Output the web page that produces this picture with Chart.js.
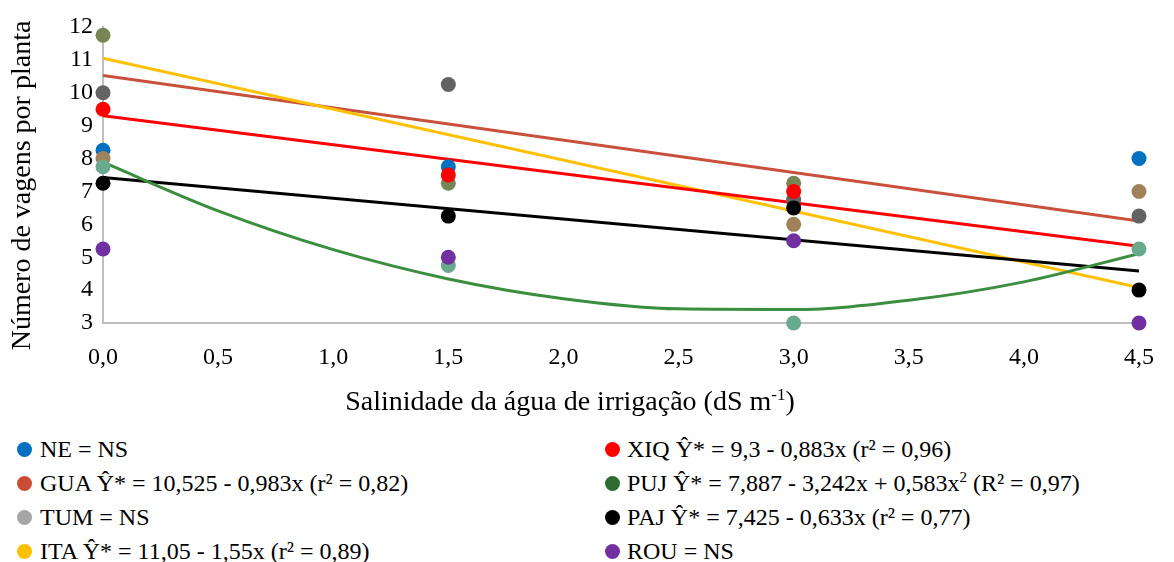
<!DOCTYPE html>
<html>
<head>
<meta charset="utf-8">
<script src="https://cdn.jsdelivr.net/npm/chart.js@4/dist/chart.umd.min.js"></script>
<style>
  body { margin: 0; background: #fff; font-family: 'Liberation Serif', 'Times New Roman', serif; color: #000; }
  #wrap { position: relative; width: 1174px; height: 562px; overflow: hidden; }
  #c { position: absolute; left: 0; top: 0; }
  #xtitle { position: absolute; left: 270px; width: 600px; top: 379px; line-height: 32px; text-align: center; font-size: 28px; }
  #xtitle sup { font-size: 17px; }
  .col { position: absolute; top: 432px; font-size: 24px; }
  .item { position: relative; height: 34px; line-height: 34px; white-space: nowrap; }
  .item sup { font-size: 15px; line-height: 0; }
  .dot { position: absolute; top: 10px; width: 15px; height: 15px; border-radius: 50%; }
</style>
</head>
<body>
<div id="wrap">
  <canvas id="c" width="1174" height="420"></canvas>
  <div id="xtitle">Salinidade da água de irrigação (dS m<sup>-1</sup>)</div>
  <div class="col" id="legLeft" style="left:0"></div>
  <div class="col" id="legRight" style="left:585px"></div>
</div>
<script>
// salinity levels (dS m-1)
const salinity = [0, 1.5, 3, 4.5];

// observed points, grouped by marker colour (null = hidden behind another marker)
const ptBlue   = [8.25, 7.75, null, 8.0];
const ptOlive  = [11.75, 7.25, 7.25, null];
const ptGray   = [10.0, 10.25, 6.75, 6.25];
const ptBrown  = [8.0, null, 6.0, 7.0];
const ptTeal   = [7.75, 4.75, 3.0, 5.25];
const ptBlack  = [7.25, 6.25, 6.5, 4.0];
const ptRed    = [9.5, 7.5, 7.0, null];
const ptPurple = [5.25, 5.0, 5.5, 3.0];

// fitted lines, read at the ends of the axis
const lineX = [0, 4.5];
const guaLine = [10.525, 6.1];
const itaLine = [11.05, 4.08];
const xiqLine = [9.3, 5.33];
const pajLine = [7.425, 4.58];

// PUJ quadratic curve, read every 0.5
const curveX = [0, 0.5, 1, 1.5, 2, 2.5, 3, 3.5, 4, 4.5];
const pujCurve = [7.89, 6.41, 5.23, 4.34, 3.74, 3.43, 3.41, 3.69, 4.25, 5.11];

const xTicks = [0, 0.5, 1, 1.5, 2, 2.5, 3, 3.5, 4, 4.5];

// legend entries
const legendLeft = [
  ['#0070C0', 'NE = NS'],
  ['#CC4B34', 'GUA Ŷ* = 10,525 - 0,983x (r² = 0,82)'],
  ['#A5A5A5', 'TUM = NS'],
  ['#FFC000', 'ITA Ŷ* = 11,05 - 1,55x (r² = 0,89)']
];
const legendRight = [
  ['#FF0000', 'XIQ Ŷ* = 9,3 - 0,883x (r² = 0,96)'],
  ['#2F6A31', 'PUJ Ŷ* = 7,887 - 3,242x + 0,583x<sup>2</sup> (R² = 0,97)'],
  ['#000000', 'PAJ Ŷ* = 7,425 - 0,633x (r² = 0,77)'],
  ['#7030A0', 'ROU = NS']
];

function fillLegend(id, items, dotX, textX) {
  let el = document.getElementById(id);
  items.forEach(function (it) {
    let row = document.createElement('div');
    row.className = 'item';
    row.style.paddingLeft = textX + 'px';
    row.innerHTML = '<span class="dot" style="left:' + dotX + 'px;background:' + it[0] + '"></span>' + it[1];
    el.appendChild(row);
  });
}
fillLegend('legLeft', legendLeft, 17, 40);
fillLegend('legRight', legendRight, 20, 42);

function pts(xs, ys) {
  let out = [];
  ys.forEach(function (y, i) {
    if (y !== null) out.push({ x: xs[i], y: y });
  });
  return out;
}

function dots(ys, color, order) {
  return {
    data: pts(salinity, ys),
    showLine: false,
    pointRadius: 7.5,
    pointBackgroundColor: color,
    pointBorderWidth: 0,
    clip: false,
    order: order
  };
}

function trend(xs, ys, color) {
  return {
    data: pts(xs, ys),
    showLine: true,
    borderColor: color,
    borderWidth: 3,
    pointRadius: 0,
    cubicInterpolationMode: 'monotone',
    order: 20
  };
}

const font = 'Liberation Serif';

new Chart(document.getElementById('c'), {
  type: 'scatter',
  data: {
    datasets: [
      dots(ptPurple, '#7030A0', 1),
      dots(ptRed, '#FF0000', 2),
      dots(ptBlack, '#000000', 3),
      dots(ptTeal, '#69A98E', 4),
      dots(ptBrown, '#A0825A', 5),
      dots(ptGray, '#636363', 6),
      dots(ptOlive, '#778654', 7),
      dots(ptBlue, '#0070C0', 8),
      trend(curveX, pujCurve, '#3B8E3F'),
      trend(lineX, pajLine, '#000000'),
      trend(lineX, xiqLine, '#FF0000'),
      trend(lineX, itaLine, '#FFC000'),
      trend(lineX, guaLine, '#C9503B')
    ]
  },
  options: {
    responsive: false,
    animation: false,
    layout: { padding: { top: 27, right: 19, left: 0, bottom: 0 } },
    plugins: {
      legend: { display: false },
      tooltip: { enabled: false }
    },
    scales: {
      x: {
        type: 'linear',
        min: 0,
        max: 4.5,
        afterBuildTicks: function (scale) {
          scale.ticks = xTicks.map(function (v) { return { value: v }; });
        },
        afterFit: function (scale) { scale.height = 97; },
        grid: { display: false, drawTicks: false },
        border: { display: true, color: '#BFBFBF', width: 2 },
        ticks: {
          color: '#000',
          padding: 20,
          maxRotation: 0,
          font: { family: font, size: 24 },
          callback: function (v) { return v.toFixed(1).replace('.', ','); }
        }
      },
      y: {
        min: 3,
        max: 12,
        afterFit: function (scale) { scale.width = 103; },
        grid: { display: false, drawTicks: false },
        border: { display: true, color: '#BFBFBF', width: 2 },
        ticks: {
          color: '#000',
          stepSize: 1,
          padding: 10,
          font: { family: font, size: 24 }
        },
        title: {
          display: true,
          text: 'Número de vagens por planta\u00A0\u00A0\u00A0',
          color: '#000',
          padding: { top: 6, bottom: 0 },
          font: { family: font, size: 28 }
        }
      }
    }
  }
});
</script>
</body>
</html>
